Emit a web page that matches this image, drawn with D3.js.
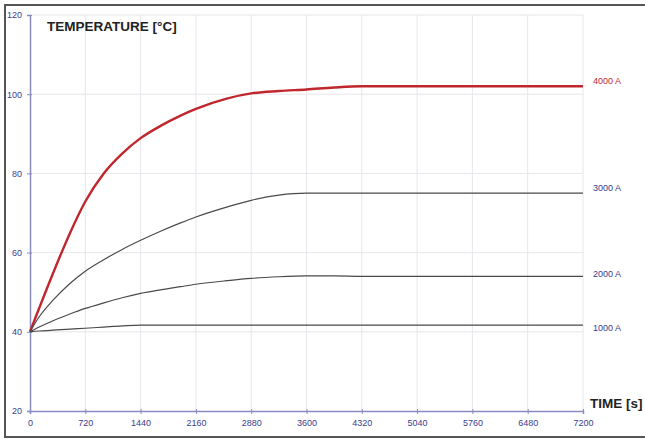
<!DOCTYPE html>
<html><head><meta charset="utf-8">
<script src="https://cdn.jsdelivr.net/npm/d3@7"></script>
<style>html,body{margin:0;padding:0;background:#fff;overflow:hidden}</style>
</head><body>
<svg id="c" width="645" height="441"></svg>
<script>
const times = [0,120,300,520,720,960,1200,1440,1700,1960,2160,2560,2880,3240,3600,3960,4320,5040,5760,6480,7200];
const s4000 = [40,46,54.8,64.9,72.9,80,85,88.9,92,94.6,96.3,98.9,100.2,100.8,101.2,101.7,102,102,102,102,102];
const s3000 = [40,43.8,48,52.2,55.3,58.2,60.8,63.1,65.4,67.5,69,71.5,73.2,74.5,75,75,75,75,75,75,75];
const s2000 = [40,41.2,42.8,44.5,45.9,47.3,48.6,49.7,50.6,51.4,52,52.9,53.5,53.9,54.1,54.1,54,54,54,54,54];
const s1000 = [40,40.2,40.4,40.7,40.9,41.2,41.5,41.7,41.7,41.7,41.7,41.7,41.7,41.7,41.7,41.7,41.7,41.7,41.7,41.7,41.7];
const seriesNames = ["4000 A","3000 A","2000 A","1000 A"];
const labelValues = [103.4,76.4,54.6,40.9];
const xTicks = [0,720,1440,2160,2880,3600,4320,5040,5760,6480,7200];
const yTicks = [20,40,60,80,100,120];
const yTitle = "TEMPERATURE [°C]";
const xTitle = "TIME [s]";

const series = [s4000,s3000,s2000,s1000];
const colors = ["#c0272d","#4a4a4a","#4a4a4a","#4a4a4a"];
const widths = [2.4,1.2,1.2,1.2];
const labelColors = ["#c0272d","#3a3a8a","#3a3a8a","#3a3a8a"];

const svg = d3.select("#c");
const x = d3.scaleLinear().domain([0,7200]).range([30,583]);
const y = d3.scaleLinear().domain([20,120]).range([411,15]);

// grid
svg.append("g").selectAll("line").data(xTicks.slice(1)).join("line")
  .attr("x1",d=>x(d)).attr("x2",d=>x(d)).attr("y1",y(120)).attr("y2",y(20))
  .attr("stroke","#e6e6ec").attr("stroke-width",1);
svg.append("g").selectAll("line").data(yTicks.slice(1)).join("line")
  .attr("x1",x(0)).attr("x2",x(7200)).attr("y1",d=>y(d)).attr("y2",d=>y(d))
  .attr("stroke","#e6e6ec").attr("stroke-width",1);

// axes
const axCol = "#8a8ac2", tickCol = "#3c3c8e";
const fmt = d3.format("d");
const yAxis = svg.append("g").attr("transform",`translate(${x(0)},0)`)
  .call(d3.axisLeft(y).tickValues(yTicks).tickFormat(fmt).tickSize(3).tickPadding(5));
const xAxis = svg.append("g").attr("transform",`translate(0,${y(20)})`)
  .call(d3.axisBottom(x).tickValues(xTicks).tickFormat(fmt).tickSize(3).tickPadding(6));
[yAxis,xAxis].forEach(a=>{
  a.select(".domain").attr("stroke",axCol).attr("stroke-width",1.5);
  a.selectAll(".tick line").attr("stroke",axCol).attr("stroke-width",1);
  a.selectAll(".tick text").attr("fill",tickCol).attr("font-family","Liberation Sans, Arial, sans-serif").attr("font-size",9);
});
xAxis.selectAll(".tick line").attr("y1",-2);
yAxis.selectAll(".tick line").attr("x1",2);

// lines
const line = d3.line().x((d,i)=>x(times[i])).y(d=>y(d)).curve(d3.curveMonotoneX);
series.forEach((s,k)=>{
  svg.append("path").datum(s).attr("d",line).attr("fill","none")
    .attr("stroke",colors[k]).attr("stroke-width",widths[k]).attr("stroke-linejoin","round");
});
// labels
svg.append("g").selectAll("text").data(seriesNames).join("text")
  .attr("x",593).attr("y",(d,i)=>y(labelValues[i])).attr("dy","0.35em")
  .attr("fill",(d,i)=>labelColors[i]).attr("font-family","Liberation Sans, Arial, sans-serif")
  .attr("font-size",9).text(d=>d);

// titles
svg.append("text").attr("x",47).attr("y",31).attr("font-family","Liberation Sans, Arial, sans-serif")
  .attr("font-weight","bold").attr("font-size",13.5).attr("fill","#222").text(yTitle);
svg.append("text").attr("x",590).attr("y",408).attr("font-family","Liberation Sans, Arial, sans-serif")
  .attr("font-weight","bold").attr("font-size",13.5).attr("fill","#222").text(xTitle);

// frame
svg.append("rect").attr("x",5).attr("y",5).attr("width",700).attr("height",432)
  .attr("fill","none").attr("stroke","#555").attr("stroke-width",2);
</script>
</body></html>
